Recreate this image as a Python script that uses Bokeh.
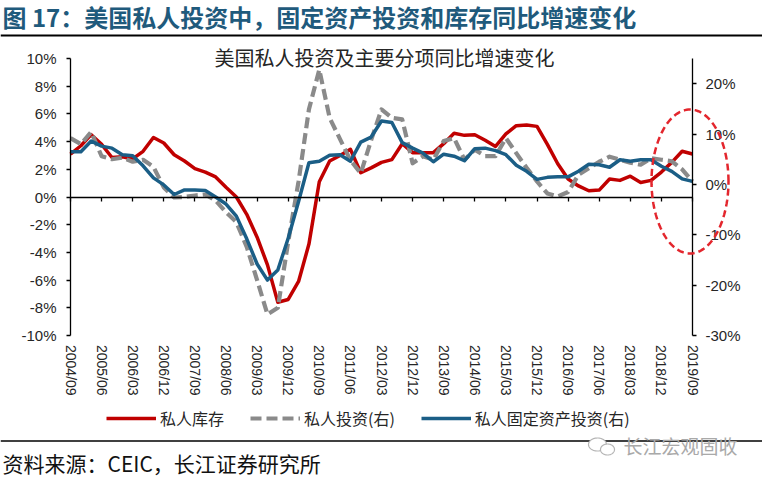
import numpy as np
from bokeh.plotting import figure
from bokeh.models import (Range1d, LinearAxis, FixedTicker, PrintfTickFormatter, Span,
                          Label, Legend, LegendItem, PolyAnnotation, ColumnDataSource)
from bokeh.embed import file_html
from bokeh.resources import INLINE

# ---------------- data (quarterly, 2004/09 .. 2019/09, YoY %) ----------------
tick_labels = ["2004/09", "2005/06", "2006/03", "2006/12", "2007/09", "2008/06", "2009/03",
               "2009/12", "2010/09", "2011/06", "2012/03", "2012/12", "2013/09", "2014/06",
               "2015/03", "2015/12", "2016/09", "2017/06", "2018/03", "2018/12", "2019/09"]

# 私人库存 (left axis)
inventory = [3.1, 3.7, 4.5, 3.8, 2.85, 2.9, 2.75, 3.3, 4.3, 3.9,
             3.05, 2.6, 2.05, 1.8, 1.45, 0.7, 0.0, -1.25, -2.9, -4.9,
             -7.6, -7.4, -6.1, -3.4, 1.1, 2.6, 3.0, 3.45, 1.75, 2.1,
             2.5, 2.7, 3.85, 3.2, 3.2, 3.2, 3.85, 4.6, 4.45, 4.5,
             4.1, 3.65, 4.55, 5.15, 5.2, 5.1, 3.8, 2.4, 1.3, 0.8,
             0.45, 0.5, 1.3, 1.2, 1.5, 1.05, 1.2, 1.8, 2.5, 3.3,
             3.1]

# 私人投资(右)
total_investment = [9.2, 8.0, 10.4, 5.6, 5.0, 5.3, 4.5, 4.9, 3.5, -0.6,
                    -2.6, -2.5, -2.2, -2.0, -3.2, -5.5, -7.5, -12.4, -19.0, -25.8,
                    -24.5, -11.4, 0.6, 14.9, 22.8, 13.2, 9.0, 4.8, 2.2, 8.8,
                    14.9, 13.2, 12.9, 4.2, 5.6, 4.9, 8.6, 9.2, 4.9, 6.9,
                    5.6, 5.6, 9.2, 6.2, 3.3, 0.6, -1.8, -2.4, -1.5, 1.9,
                    3.2, 4.5, 5.5, 4.9, 4.3, 3.9, 5.2, 4.9, 4.6, 3.0,
                    0.6]

# 私人固定资产投资(右)
fixed_investment = [6.5, 6.5, 8.6, 7.6, 7.2, 5.9, 5.7, 3.7, 1.3, -0.1,
                    -2.0, -1.1, -1.1, -1.2, -2.5, -3.9, -6.3, -10.8, -15.8, -19.0,
                    -17.0, -10.7, -3.4, 4.3, 4.6, 5.8, 5.9, 4.6, 8.4, 9.4,
                    12.6, 12.3, 8.3, 7.2, 6.2, 4.5, 6.0, 5.6, 4.7, 7.1,
                    7.2, 6.7, 5.9, 3.8, 2.6, 1.0, 1.4, 1.5, 1.5, 2.6,
                    4.0, 3.9, 3.4, 4.9, 4.6, 4.9, 4.9, 3.6, 2.6, 1.1,
                    0.6]

series_names = ["私人库存", "私人投资(右)", "私人固定资产投资(右)"]
left_ticks = [-10, -8, -6, -4, -2, 0, 2, 4, 6, 8, 10]
right_ticks = [-30, -20, -10, 0, 10, 20]
right_top = 25

# ---------------- style / layout (page pixels) ----------------
W, H = 762, 478
FL, FR, FT, FB = 70, 692, 58, 335      # chart area
RED = "#c00000"
GRAY = "#8a8a8a"
BLUE = "#1b5e86"
ELLIPSE = "#e3262d"
TITLE_COLOR = "#1f5a7c"
TEXT = "#262626"
CJK = "Noto Sans CJK SC"
LAT = "Liberation Sans"

n = len(inventory)
x = list(range(n))
step = (n - 1) // (len(tick_labels) - 1)
tick_pos = [i * step for i in range(len(tick_labels))]
L_LO, L_HI = left_ticks[0], left_ticks[-1]
R_LO, R_HI = right_ticks[0], right_top


def dx(px):
    return (px - FL) / (FR - FL) * (n - 1)


def dy(py):
    return L_HI - (py - FT) / (FB - FT) * (L_HI - L_LO)


def ry(py):
    return R_HI - (py - FT) / (FB - FT) * (R_HI - R_LO)


p = figure(width=W, height=H, output_backend="svg", toolbar_location=None,
           x_range=Range1d(dx(0), dx(W)), y_range=Range1d(dy(H), dy(0)),
           x_axis_location=None, y_axis_location=None,
           min_border_left=0, min_border_right=0, min_border_top=0, min_border_bottom=0)
p.extra_y_ranges = {"right": Range1d(ry(H), ry(0))}
p.outline_line_color = None
p.grid.visible = False
p.background_fill_color = "white"
p.border_fill_color = "white"


def style_axis(ax):
    ax.axis_line_color = "black"
    ax.axis_line_width = 1.3
    ax.major_tick_line_color = "black"
    ax.major_tick_line_width = 1.3
    ax.major_tick_out = 4
    ax.major_tick_in = 0
    ax.minor_tick_line_color = None
    ax.major_label_text_font = LAT
    ax.major_label_text_color = TEXT


# left axis (at first quarter)
la = LinearAxis(ticker=FixedTicker(ticks=left_ticks), formatter=PrintfTickFormatter(format="%d%%"),
                fixed_location=0, bounds=(L_LO, L_HI))
style_axis(la)
la.major_label_standoff = 10
la.major_label_text_font_size = "15px"
p.add_layout(la, "left")

# right axis (at last quarter)
ra = LinearAxis(y_range_name="right", ticker=FixedTicker(ticks=right_ticks),
                formatter=PrintfTickFormatter(format="%d%%"),
                fixed_location=n - 1, bounds=(R_LO, R_HI))
style_axis(ra)
ra.major_label_standoff = 9
ra.major_label_text_font_size = "15px"
p.add_layout(ra, "right")

# x axis: line + ticks at zero, labels hanging at bottom of chart area
zero_py = FT + (L_HI - 0) / (L_HI - L_LO) * (FB - FT)
xa = LinearAxis(ticker=FixedTicker(ticks=tick_pos), fixed_location=0, bounds=(0, n - 1))
style_axis(xa)
xa.major_label_overrides = {t: lab for t, lab in zip(tick_pos, tick_labels)}
xa.major_label_orientation = "vertical"
xa.major_label_standoff = int(round(FB + 10 - zero_py - 4))
xa.major_label_text_font_size = "14px"
p.add_layout(xa, "below")

src = ColumnDataSource(dict(x=x, inv=inventory, tot=total_investment, fix=fixed_investment))
r_red = p.line("x", "inv", source=src, line_color=RED, line_width=3.5, line_join="round")
r_gray = p.line("x", "tot", source=src, y_range_name="right", line_color=GRAY,
                line_width=4.2, line_dash="11 5", line_join="round")
r_blue = p.line("x", "fix", source=src, y_range_name="right", line_color=BLUE,
                line_width=3.5, line_join="round")

legend = Legend(items=[LegendItem(label=series_names[0], renderers=[r_red]),
                       LegendItem(label=series_names[1], renderers=[r_gray]),
                       LegendItem(label=series_names[2], renderers=[r_blue])],
                location=(106, H - 430), orientation="horizontal",
                padding=0, margin=0, spacing=26, label_standoff=4,
                glyph_width=50, glyph_height=20, label_height=20,
                label_text_font=CJK, label_text_font_size="16px",
                label_text_color=TEXT, border_line_alpha=0,
                background_fill_alpha=0)
p.add_layout(legend)

# highlight ellipse
th = np.linspace(0, 2 * np.pi, 145)
cx, cy = dx(689.5), dy(181)
rx, rry = dx(689.5 + 38.5) - cx, dy(181 - 72) - cy
p.add_layout(PolyAnnotation(xs=list(cx + rx * np.cos(th)), ys=list(cy + rry * np.sin(th)),
                            fill_color=None, fill_alpha=0, line_color=ELLIPSE, line_alpha=1,
                            line_width=2.5, line_dash="7 4"))

# horizontal rules (full width)
p.add_layout(Span(location=dy(35), dimension="width", line_color="black", line_width=2))
p.add_layout(Span(location=dy(440.5), dimension="width", line_color="black", line_width=1.5))

# small chat-bubble mark before the watermark
for bx, by, bw, bh in [(597, 444, 18, 13), (607, 449, 14, 11)]:
    tb = np.linspace(0, 2 * np.pi, 60)
    p.add_layout(PolyAnnotation(xs=list(dx(bx) + (dx(bx + bw / 2) - dx(bx)) * np.cos(tb)),
                                ys=list(dy(by) + (dy(by - bh / 2) - dy(by)) * np.sin(tb)),
                                fill_color="white", fill_alpha=1, line_color="#b5b5b5",
                                line_alpha=1, line_width=1.2))

# texts
p.add_layout(Label(x=dx(2), y=dy(16), text="图 17：美国私人投资中，固定资产投资和库存同比增速变化",
                   text_font=CJK, text_font_size="24px", text_font_style="bold",
                   text_color=TITLE_COLOR, text_baseline="middle", text_align="left"))
p.add_layout(Label(x=dx(384), y=dy(57), text="美国私人投资及主要分项同比增速变化",
                   text_font=CJK, text_font_size="20px", text_color=TEXT,
                   text_baseline="middle", text_align="center"))
p.add_layout(Label(x=dx(623), y=dy(445), text="长江宏观固收",
                   text_font=CJK, text_font_size="19px", text_color="#a9a9a9",
                   text_baseline="middle", text_align="left"))
p.add_layout(Label(x=dx(2), y=dy(462), text="资料来源：CEIC，长江证券研究所",
                   text_font=CJK, text_font_size="21px", text_color="#111111",
                   text_baseline="middle", text_align="left"))

open("out.html", "w").write(file_html(p, INLINE))
